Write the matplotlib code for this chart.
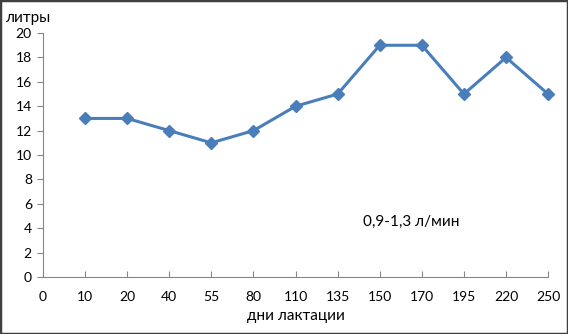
import matplotlib
matplotlib.use("Agg")
import matplotlib.pyplot as plt
from matplotlib.patches import Rectangle

plt.rcParams['font.family'] = ['Lato', 'DejaVu Sans']

categories = ["0", "10", "20", "40", "55", "80", "110", "135", "150", "170", "195", "220", "250"]
values = [13, 13, 12, 11, 12, 14, 15, 19, 19, 15, 18, 15]
y_ticks = [0, 2, 4, 6, 8, 10, 12, 14, 16, 18, 20]

fig = plt.figure(figsize=(5.68, 3.34), dpi=100)
ax = fig.add_axes([0.0757, 0.1707, 0.965 - 0.0757, 0.901 - 0.1707])

xpos = list(range(1, len(values) + 1))
ax.plot(xpos, values, color='#4a7ebb', lw=2.2, marker='D', ms=6,
        markerfacecolor='#4a7ebb', markeredgecolor='#4a7ebb', zorder=3, clip_on=False)

ax.set_xlim(0, len(categories) - 1)
ax.set_ylim(0, 20)
ax.set_xticks(range(len(categories)))
ax.set_xticklabels(categories)
ax.set_yticks(y_ticks)
for s in ['top', 'right']:
    ax.spines[s].set_visible(False)
for s in ['left', 'bottom']:
    ax.spines[s].set_color('#868686')
    ax.spines[s].set_linewidth(0.8)
ax.tick_params(axis='y', direction='out', length=4, color='#868686', labelsize=10, pad=4)
ax.tick_params(axis='x', direction='in', length=4, color='#868686', labelsize=10, pad=10)

fig.text(5/568, 1 - 18/334, 'литры', fontsize=11, ha='left', va='center')
fig.text(296/568, 1 - 316/334, 'дни лактации', fontsize=11, ha='center', va='center')
fig.text(363/568, 1 - 222/334, '0,9-1,3 л/мин', fontsize=11, ha='left', va='center')

fig.patches.append(Rectangle((0, 0), 1, 1, transform=fig.transFigure, fill=False,
                             edgecolor='#404040', lw=2.5, zorder=10))

fig.savefig('out.png', dpi=100)
